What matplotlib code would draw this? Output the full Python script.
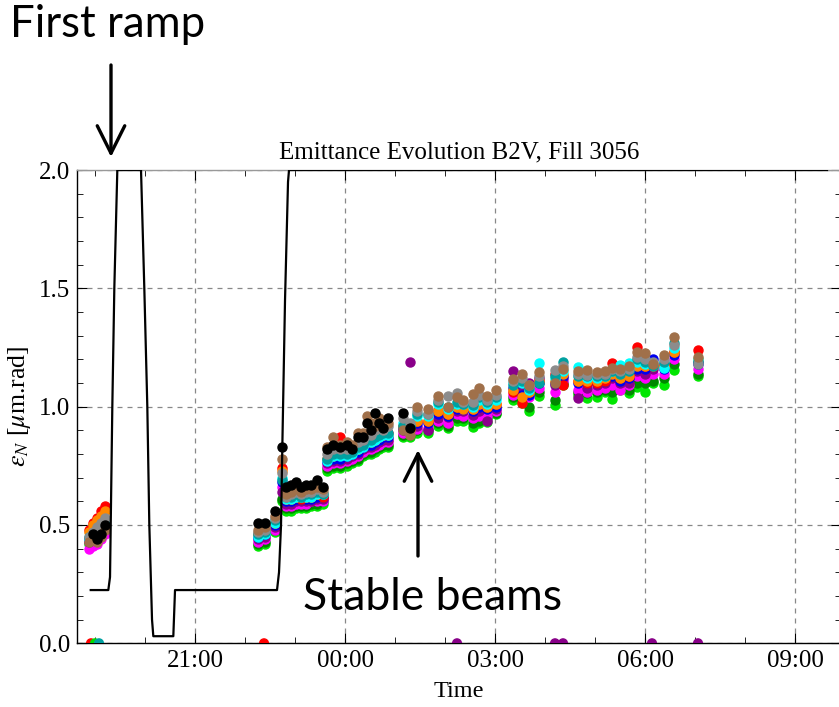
import numpy as np
import matplotlib
matplotlib.use("Agg")
import matplotlib.pyplot as plt
from matplotlib.ticker import MultipleLocator
from matplotlib.patches import FancyArrowPatch

plt.rcParams["mathtext.fontset"] = "stix"

nan = np.nan

# measurement times in hours since midnight of the first day (24 = 00:00 next day)
times = [18.88, 18.96, 19.04, 19.12, 19.20,
         22.26, 22.40, 22.60, 22.74, 22.82, 22.92, 23.02, 23.12, 23.22, 23.32, 23.44, 23.56,
         23.64, 23.76, 23.90, 24.04, 24.14, 24.26, 24.36, 24.44, 24.52, 24.60, 24.68, 24.76, 24.86,
         25.16, 25.30, 25.44, 25.66, 25.86, 26.06, 26.24, 26.36, 26.56, 26.68, 26.84, 27.02,
         27.36, 27.54, 27.68, 27.88, 28.20, 28.36, 28.66, 28.84, 29.04, 29.20, 29.34, 29.50,
         29.68, 29.84, 30.00, 30.16, 30.38, 30.58, 31.06]

# normalised emittance per bunch [um.rad]
green = [.42, .42, .43, .45, .47,
         .41, .42, .47, .60, .56, .56, .57, .57, .57, .58, .58, .59,
         .73, .74, .74, .75, .76, .77, .79, .80, .80, .81, .82, .83, .83,
         .87, .87, .89, .89, .92, .91, .94, .94, .915, .93, .937, .97,
         1.03, 1.015, .983, 1.045, 1.007, 1.09, 1.05, 1.037, 1.042, 1.063, 1.031, 1.07,
         1.056, 1.085, 1.063, 1.10, 1.092, 1.155, 1.13]
darkgreen = [nan, nan, nan, nan, nan,
             .42, .43, .48, .61, .57, .57, .58, .58, .58, .59, .59, .60,
             .74, .75, .75, .76, .77, .78, .80, .81, .81, .82, .83, .84, .84,
             .88, .88, .90, .90, .93, .92, .95, .95, .93, .94, .95, .973,
             1.04, 1.03, 1.00, 1.06, 1.03, 1.10, 1.06, 1.058, 1.06, 1.07, 1.06, 1.08,
             1.07, 1.10, 1.10, 1.11, 1.12, 1.18, 1.14]
magenta = [.40, .41, .42, .44, .46,
           .43, .44, .48, .66, .58, .58, .59, .59, .59, .60, .60, .60,
           .75, .76, .76, .77, .78, .79, .81, .82, .82, .83, .84, .85, .85,
           .89, .89, .905, .91, .94, .93, .97, .96, .95, .96, .96, .98,
           1.05, 1.06, 1.04, 1.08, 1.06, 1.11, 1.07, 1.06, 1.07, 1.08, 1.09, 1.07,
           1.09, 1.13, 1.12, 1.14, 1.14, 1.20, 1.16]
purple = [.43, .44, .46, .49, .52,
          .44, .45, .49, .64, .59, .59, .60, .60, .60, .60, .61, .61,
          .76, .77, .77, .78, .79, .80, .82, .83, .83, .84, .85, .86, .86,
          .90, 1.19, .92, .90, .95, .958, .98, .98, .965, .98, .94, .99,
          1.152, 1.07, 1.10, 1.12, 1.09, 1.12, 1.037, 1.08, 1.09, 1.10, 1.12, 1.10,
          1.10, 1.15, 1.14, 1.16, 1.18, 1.23, 1.19]
blue = [.44, .45, .47, .49, .51,
        .45, .46, .50, .68, .60, .60, .61, .61, .61, .61, .62, .62,
        .77, .78, .78, .79, .80, .81, .83, .84, .84, .85, .86, .87, .87,
        .91, .90, .93, .93, .97, .96, .99, .99, .98, 1.00, .99, 1.00,
        1.08, 1.05, 1.05, 1.10, 1.10, 1.13, 1.10, 1.10, 1.10, 1.11, 1.13, 1.11,
        1.12, 1.16, 1.16, 1.20, 1.16, 1.22, 1.18]
red = [.48, .51, .53, .56, .58,
       .46, .48, .51, .74, .61, .61, .62, .61, .62, .62, .63, .62,
       .78, .80, .87, .80, .81, .82, .84, .85, .86, .87, .88, .88, .89,
       .92, .91, .94, .94, .98, .97, 1.00, 1.00, .99, 1.01, 1.00, 1.01,
       1.06, 1.015, 1.06, 1.11, 1.14, 1.092, 1.11, 1.10, 1.10, 1.11, 1.186, 1.12,
       1.13, 1.254, 1.17, 1.17, 1.17, 1.23, 1.24]
orange = [.47, .50, .52, .54, .56,
          .46, .47, .51, .73, .61, .61, .62, .62, .62, .62, .63, .63,
          .78, .79, .80, .80, .81, .82, .84, .85, .85, .86, .87, .88, .88,
          .92, .90, .94, .94, .98, .97, 1.00, .99, .99, 1.01, 1.00, 1.01,
          1.07, 1.04, 1.06, 1.11, 1.11, 1.14, 1.11, 1.11, 1.11, 1.12, 1.14, 1.12,
          1.13, 1.17, 1.17, 1.17, 1.17, 1.23, 1.20]
cyan = [.44, .45, .47, .49, .51,
        .45, .46, .51, .70, .61, .61, .62, .62, .62, .62, .63, .63,
        .77, .79, .79, .79, .80, .82, .83, .85, .85, .86, .87, .88, .88,
        .93, .92, .96, .96, 1.01, .99, 1.01, 1.01, 1.00, 1.03, 1.01, 1.03,
        1.10, 1.10, 1.07, 1.185, 1.12, 1.15, 1.169, 1.12, 1.12, 1.13, 1.15, 1.176,
        1.186, 1.19, 1.18, 1.18, 1.165, 1.25, 1.20]
teal = [.45, .46, .48, .50, .52,
        .46, .47, .52, .69, .62, .62, .63, .62, .63, .63, .64, .63,
        .78, .80, .80, .80, .81, .83, .84, .86, .86, .87, .88, .89, .89,
        .92, .92, .97, .97, 1.02, 1.00, 1.02, 1.01, 1.007, 1.04, 1.02, 1.04,
        1.09, 1.11, 1.08, 1.10, 1.13, 1.19, 1.13, 1.13, 1.13, 1.13, 1.15, 1.14,
        1.15, 1.20, 1.19, 1.17, 1.19, 1.27, 1.19]
gray = [.45, .47, .49, .51, .53,
        .47, .48, .53, .72, .62, .63, .64, .63, .64, .64, .65, .64,
        .80, .82, .82, .82, .83, .85, .86, .88, .88, .90, .91, .90, .92,
        .95, .93, .98, .97, 1.03, 1.045, 1.057, 1.02, 1.02, 1.05, 1.03, 1.05,
        1.11, 1.12, 1.09, 1.13, 1.155, 1.17, 1.14, 1.135, 1.14, 1.14, 1.16, 1.15,
        1.16, 1.21, 1.20, 1.19, 1.20, 1.26, 1.18]
brown = [.43, .44, .43, .45, .48,
         .48, .49, .54, .78, .63, .64, .65, .64, .65, .65, .66, .65,
         .83, .87, .84, .85, .84, .89, .89, .96, .93, .92, .95, .92, .93,
         .90, .88, 1.00, .99, 1.045, 1.00, 1.04, 1.03, 1.052, 1.078, 1.045, 1.07,
         1.117, 1.137, 1.09, 1.148, 1.10, 1.16, 1.15, 1.155, 1.148, 1.15, 1.165, 1.16,
         1.17, 1.232, 1.227, 1.18, 1.219, 1.296, 1.21]
black = [nan, .46, .44, .46, .50,
         .51, .51, .56, .83, .66, .67, .68, .66, .67, .67, .69, .66,
         .82, .84, .83, .84, .82, .87, .87, .93, .90, .975, .93, .91, .95,
         .975, .91, nan, nan, nan, nan, nan, nan, nan, nan, nan, nan,
         nan, nan, nan, nan, nan, nan, nan, nan, nan, nan, nan, nan,
         nan, nan, nan, nan, nan, nan, nan]

# failed fits plotted at zero
zero_times = [18.92, 19.00, 19.08, 22.38, 26.24, 28.20, 28.36, 30.14, 31.06]
zero_colors = ["#ff0000", "#00dd00", "#00a0a0", "#ff0000", "#880088",
               "#880088", "#880088", "#880088", "#880088"]

# beam energy / mode indicator (scaled), black line
ramp_t = [18.914, 19.266, 19.30, 19.314, 19.346, 19.386, 19.446, 19.92, 19.986, 20.046,
          20.086, 20.14, 20.166, 20.566, 20.60, 22.64, 22.68, 22.72, 22.746, 22.80,
          22.86, 22.88, 33.64]
ramp_v = [0.225, 0.225, 0.28, 0.5, 1.0, 1.5, 2.0, 2.0, 1.5, 1.0,
          0.5, 0.1, 0.03, 0.03, 0.225, 0.225, 0.30, 0.50, 0.83, 1.45,
          1.95, 2.0, 2.0]

series = [
    (green, "#00e600"), (darkgreen, "#008800"), (magenta, "#ff00ff"),
    (purple, "#8a008a"), (blue, "#0000ee"), (red, "#ff0000"),
    (orange, "#ff8800"), (cyan, "#00ffff"), (teal, "#00a0a0"),
    (gray, "#8c8c8c"), (brown, "#a0704a"), (black, "#000000"),
]

fig = plt.figure(figsize=(8.39, 7.07), dpi=100)
ax = fig.add_axes([0.0918, 0.0901, 0.9106, 0.6694])

for vals, col in series:
    ax.errorbar(times, vals, yerr=0.015, fmt="o", color=col, ms=6.5,
                mec=col, elinewidth=1.0, capsize=0, zorder=3)
ax.scatter(zero_times, np.zeros(len(zero_times)), s=40, c=zero_colors, zorder=3)

ax.plot(ramp_t, ramp_v, color="black", lw=1.6, zorder=4)

ax.set_xlim(18.64, 33.92)
ax.set_ylim(0, 2.0)
ax.set_xticks([21, 24, 27, 30, 33])
ax.set_xticklabels(["21:00", "00:00", "03:00", "06:00", "09:00"])
ax.xaxis.set_minor_locator(MultipleLocator(1))
ax.set_yticks([0, 0.5, 1.0, 1.5, 2.0])
ax.set_yticklabels(["0.0", "0.5", "1.0", "1.5", "2.0"])
ax.yaxis.set_minor_locator(MultipleLocator(0.1))
ax.tick_params(which="both", direction="in", top=True, right=True)
ax.tick_params(which="major", length=7, width=0.8, labelsize=18, pad=5)
ax.tick_params(which="minor", length=4, width=0.6)
for lab in ax.get_xticklabels() + ax.get_yticklabels():
    lab.set_family("Liberation Serif")
for sp in ax.spines.values():
    sp.set_linewidth(1.0)
ax.spines["top"].set_color("#999999")
ax.grid(True, which="major", color="#888888", ls=(0, (4, 4)), lw=0.9)

ax.set_title("Emittance Evolution B2V, Fill 3056", family="Liberation Serif",
             fontsize=18, pad=8)
ax.set_xlabel("Time", family="Liberation Serif", fontsize=17.5, labelpad=6)
ax.set_ylabel(r"$\epsilon_N$ [$\mu$m.rad]", family="Liberation Serif",
              fontsize=18.5, labelpad=4)

# slide annotations
fig.text(0.012, 0.947, "First ramp", family="Lato", fontsize=31.5, va="baseline")
fig.text(0.361, 0.137, "Stable beams", family="Lato", fontsize=32, va="baseline")
arrow = dict(arrowstyle="->,head_length=0.9,head_width=0.45", lw=2.4,
             color="black", mutation_scale=22)
fig.add_artist(FancyArrowPatch(
    (111 / 839, 1 - 65 / 707), (111 / 839, 1 - 157 / 707),
    transform=fig.transFigure, shrinkA=0, shrinkB=0, **arrow))
fig.add_artist(FancyArrowPatch(
    (418 / 839, 1 - 556 / 707), (418 / 839, 1 - 450 / 707),
    transform=fig.transFigure, shrinkA=0, shrinkB=0, **arrow))

fig.savefig("out.png", dpi=100)
